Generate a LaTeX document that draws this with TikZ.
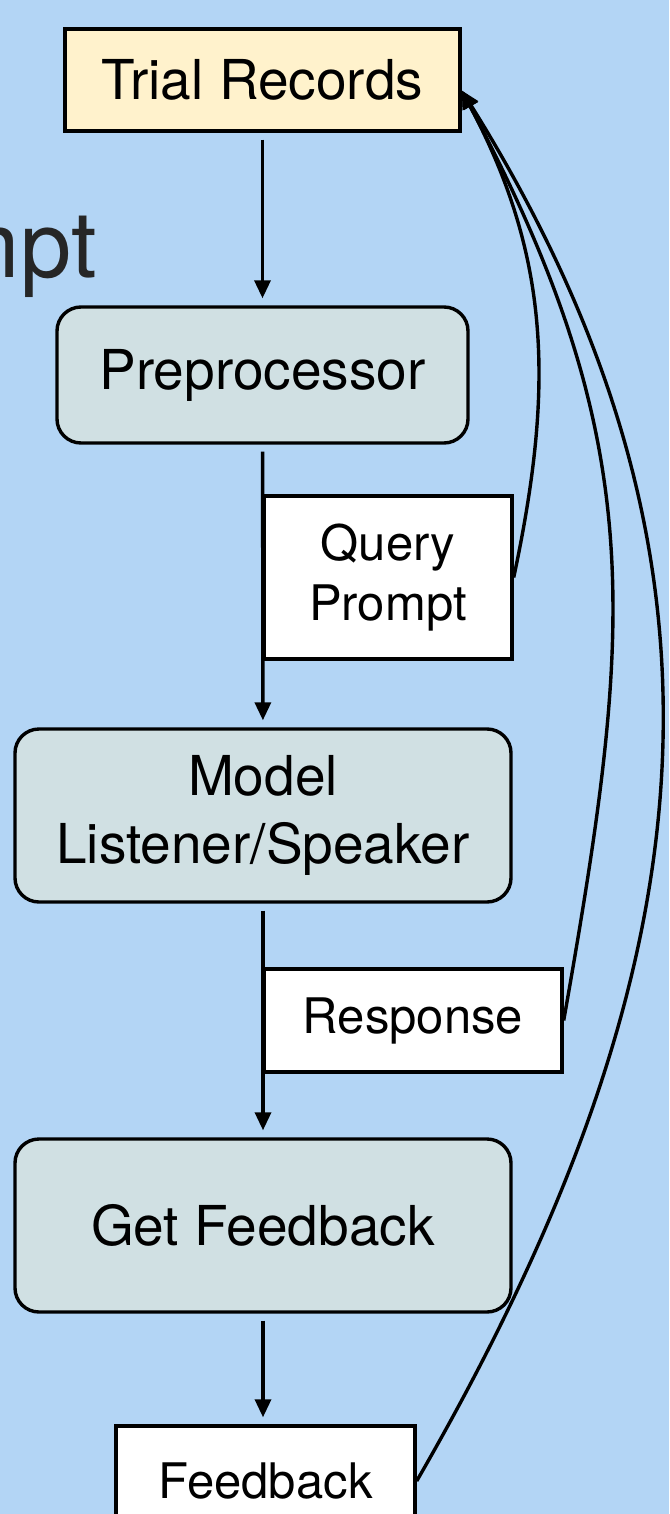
\documentclass[tikz,border=0pt]{standalone}
\usepackage{fontspec}
\setmainfont{TeX Gyre Heros}
\usetikzlibrary{arrows.meta}
\definecolor{skyback}{HTML}{B3D5F5}
\definecolor{stagefill}{HTML}{D0E0E3}
\definecolor{recordfill}{HTML}{FFF2CC}
\tikzset{every picture/.style = {x=0.5pt, y=-0.5pt, line width=1.7pt}}
\tikzset{box/.style = {draw, inner sep=0pt, align=center, font=\fontsize{27.5}{34}\selectfont}}
\tikzset{record/.style = {box, fill=recordfill}}
\tikzset{stage/.style = {box, fill=stagefill, rounded corners=12pt}}
\tikzset{tag/.style = {box, fill=white, font=\fontsize{24.5}{30}\selectfont}}
\tikzset{flow/.style = {-{Triangle[length=9pt, width=8pt]}, shorten <=3.5pt, shorten >=3.5pt}}
\tikzset{back/.style = {-{Triangle[length=9pt, width=8pt]}}}

\begin{document}
\begin{tikzpicture}
  \fill[skyback] (0, 0) rectangle (669, 1514);
  \useasboundingbox (0, 0) rectangle (669, 1514);
  \clip (0, 0) rectangle (669, 1514);
  \node[anchor=base east, font=\fontsize{46}{50}\selectfont, text=black!85] (cut) at (105, 278) {mpt};
  \node[record, minimum width=197.5pt, minimum height=51pt] (trial) at (262.5, 80) {Trial Records};
  \node[stage, minimum width=205.5pt, minimum height=68pt] (pre) at (262.5, 375) {Preprocessor};
  \node[tag, minimum width=124pt, minimum height=81.5pt] (query) at (388, 577.5) {Query\\Prompt};
  \node[stage, minimum width=248pt, minimum height=86.5pt] (model) at (263, 815.5) {Model\\Listener/Speaker};
  \node[tag, minimum width=149pt, minimum height=51.5pt] (resp) at (413, 1020.5) {Response};
  \node[stage, minimum width=248pt, minimum height=86.5pt] (get) at (263, 1225.5) {Get Feedback};
  \node[tag, minimum width=149.5pt, minimum height=55pt] (fb) at (265.5, 1481) {Feedback};
  \draw[flow] (trial) -- (pre);
  \draw[flow] (pre) -- (model);
  \draw[flow] (model) -- (get);
  \draw[flow] (get) -- (get |- fb.north);
  \draw[back] (query.east) to[out=78, in=-62] (trial.-3);
  \draw[back] (resp.east) to[out=80, in=-62, looseness=1.1] (trial.-3);
  \draw[back] (fb.east) to[out=60, in=-58, looseness=1.05] (trial.-3);
\end{tikzpicture}
\end{document}
